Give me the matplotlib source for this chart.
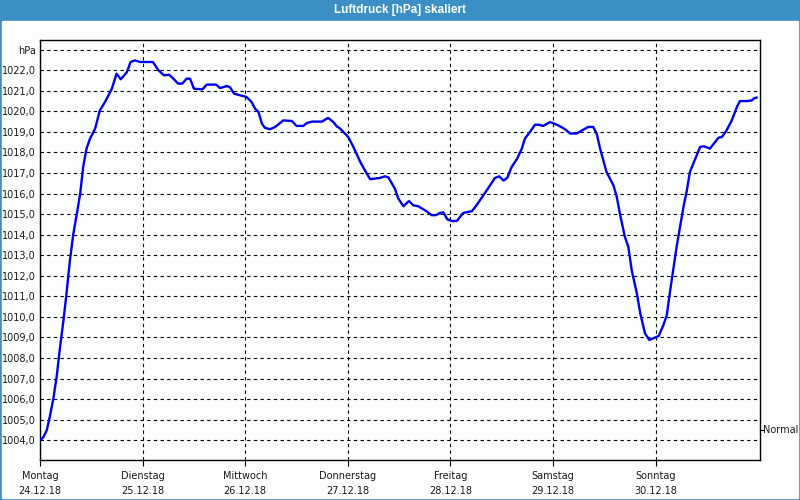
import matplotlib
matplotlib.use('Agg')
import matplotlib.pyplot as plt
import matplotlib.transforms as mtransforms
from matplotlib.patches import Rectangle

# Luftdruck-Verlauf (Stunden ab Montag 0:00, Wert in hPa)
stunden = [0.0, 0.8, 1.6, 2.3, 3.1, 3.9, 4.7, 5.5, 6.2, 7.0, 7.8, 8.6, 9.4, 10.1,
           10.9, 11.7, 12.9, 14.0, 15.2, 16.8, 17.9, 18.9, 20.3, 21.2, 22.2, 23.4,
           26.4, 27.7, 29.0, 30.2, 31.2, 32.3, 33.3, 34.3, 35.1, 36.0, 38.0, 39.0,
           41.2, 42.1, 43.7, 44.4, 45.4, 46.8, 48.3, 49.5, 50.3, 51.1, 51.9, 52.6,
           53.8, 55.0, 56.9, 58.9, 60.0, 61.6, 62.4, 63.6, 65.9, 67.4, 68.6, 69.4,
           70.2, 72.1, 73.3, 74.9, 76.0, 77.2, 79.5, 80.7, 81.5, 83.0, 83.8, 85.0,
           86.3, 87.3, 88.5, 90.4, 91.6, 92.6, 93.6, 94.3, 95.3, 96.5, 97.5, 99.0,
           101.0, 102.1, 103.7, 105.3, 106.4, 107.4, 108.4, 109.3, 110.3, 111.6,
           112.7, 113.4, 114.6, 115.8, 116.6, 117.7, 119.3, 121.2, 122.8, 124.0,
           125.5, 127.1, 128.2, 129.4, 130.2, 131.0, 132.5, 134.1, 134.9, 135.7,
           136.8, 137.6, 138.4, 139.6, 140.4, 141.5, 142.5, 143.9, 144.7, 145.8,
           146.6, 147.4, 148.2, 148.9, 149.7, 150.5, 151.3, 152.0, 152.8, 153.6,
           154.4, 155.3, 156.7, 157.9, 158.7, 159.5, 160.6, 161.8, 163.0, 163.7,
           165.3, 166.5, 167.0, 167.6]
luftdruck = [1004.0, 1004.15, 1004.5, 1005.15, 1006.0, 1007.1, 1008.55, 1009.85,
             1011.15, 1012.75, 1014.05, 1015.0, 1016.0, 1017.3, 1018.2, 1018.67,
             1019.16, 1020.05, 1020.45, 1021.1, 1021.83, 1021.56, 1021.9, 1022.4,
             1022.48, 1022.4, 1022.4, 1022.0, 1021.75, 1021.78, 1021.59, 1021.35,
             1021.35, 1021.59, 1021.59, 1021.1, 1021.07, 1021.3, 1021.3, 1021.13,
             1021.23, 1021.18, 1020.86, 1020.78, 1020.7, 1020.45, 1020.13, 1019.97,
             1019.4, 1019.2, 1019.13, 1019.24, 1019.56, 1019.53, 1019.29, 1019.29,
             1019.43, 1019.5, 1019.5, 1019.68, 1019.48, 1019.27, 1019.16, 1018.75,
             1018.27, 1017.54, 1017.13, 1016.7, 1016.76, 1016.84, 1016.78, 1016.24,
             1015.76, 1015.38, 1015.64, 1015.43, 1015.38, 1015.14, 1014.95, 1014.95,
             1015.06, 1015.09, 1014.74, 1014.66, 1014.67, 1015.06, 1015.14, 1015.43,
             1015.92, 1016.41, 1016.76, 1016.84, 1016.63, 1016.77, 1017.29, 1017.7,
             1018.19, 1018.67, 1019.0, 1019.35, 1019.35, 1019.29, 1019.48, 1019.32,
             1019.13, 1018.92, 1018.92, 1019.11, 1019.24, 1019.24, 1018.92, 1018.19,
             1017.05, 1016.41, 1015.84, 1014.95, 1013.89, 1013.41, 1012.27, 1011.14,
             1010.17, 1009.2, 1008.88, 1009.0, 1009.07, 1009.6, 1010.09, 1011.3,
             1012.44, 1013.41, 1014.38, 1015.35, 1016.16, 1017.05, 1017.46, 1017.86,
             1018.27, 1018.3, 1018.19, 1018.51, 1018.72, 1018.75, 1019.08, 1019.56,
             1020.21, 1020.5, 1020.5, 1020.53, 1020.63, 1020.67]

tage = ['Montag', 'Dienstag', 'Mittwoch', 'Donnerstag', 'Freitag', 'Samstag', 'Sonntag']
daten = ['24.12.18', '25.12.18', '26.12.18', '27.12.18', '28.12.18', '29.12.18', '30.12.18']
tag_stunden = [0, 24, 48, 72, 96, 120, 144]
y_stufen = list(range(1004, 1024))
normal = 1004.5

rahmen = '#3b8fc4'
hintergrund = '#fcfefe'
textfarbe = '#1a1a1a'

fig = plt.figure(figsize=(8, 5), dpi=100)
fig.patch.set_facecolor(rahmen)
fig.add_artist(Rectangle((2 / 800, 2 / 500), 796 / 800, 477 / 500,
                         transform=fig.transFigure, color=hintergrund, zorder=0))
fig.text(0.5, 1 - 10.5 / 500, 'Luftdruck [hPa] skaliert', color='white',
         ha='center', va='center', fontsize=8.5, fontweight='bold',
         family='Liberation Sans')

ax = fig.add_axes([40 / 800, 40 / 500, 720 / 800, 420 / 500])
ax.set_facecolor(hintergrund)

ax.plot(stunden, luftdruck, color='#0000ee', lw=1.7, zorder=3)

ax.set_xlim(0, 168.4)
ax.set_ylim(1003.04, 1023.47)

ax.set_yticks(y_stufen)
ax.set_yticklabels(['%d,0' % v for v in y_stufen[:-1]] + ['hPa'])
ax.set_xticks(tag_stunden)
ax.set_xticklabels(['%s\n%s' % (t, d) for t, d in zip(tage, daten)], linespacing=1.6)

ax.tick_params(axis='y', length=0, pad=3, labelsize=7, labelcolor=textfarbe)
ax.tick_params(axis='x', length=4, width=0.8, direction='out', pad=4,
               labelsize=7, labelcolor=textfarbe)

ax.grid(True, color='black', lw=0.8, linestyle=(0, (3, 3)))
for s in ax.spines.values():
    s.set_linewidth(1.0)
    s.set_color('black')

# Normal-Markierung rechts
trans = mtransforms.blended_transform_factory(ax.transAxes, ax.transData)
ax.plot([1.0, 1.005], [normal, normal], color='black', lw=0.8,
        transform=trans, clip_on=False)
ax.text(1.004, normal, 'Normal', transform=trans, fontsize=7, color=textfarbe,
        ha='left', va='center')

fig.savefig('out.png', dpi=100, facecolor=fig.get_facecolor())
